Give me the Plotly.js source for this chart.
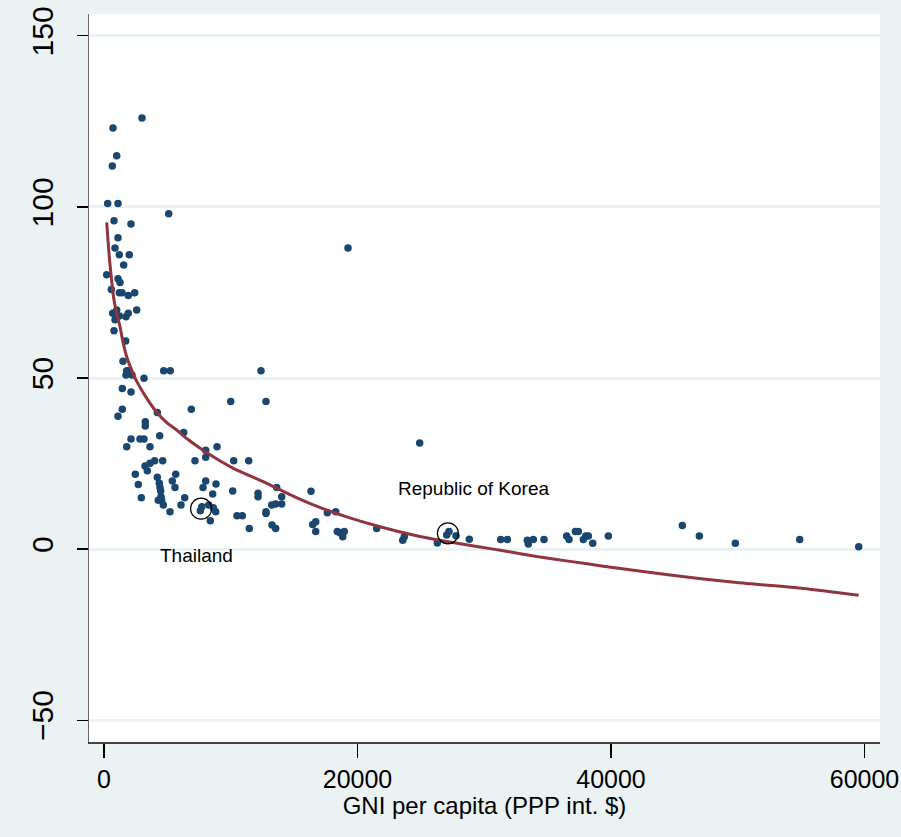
<!DOCTYPE html>
<html>
<head>
<meta charset="utf-8">
<script src="https://cdn.plot.ly/plotly-3.0.1.min.js"></script>
<style>html,body{margin:0;padding:0;background:#eaf2f3;}</style>
</head>
<body>
<div id="chart" style="width:901px;height:837px;"></div>
<script>
// Scatter points: GNI per capita (PPP int. $) and the outcome value
const gni = [2998,710,1002,655,292,1105,5105,789,2130,1105,868,1208,1996,1554,213,1105,1262,576,1208,1420,1917,2422,
  1002,686,1208,1736,1917,2580,868,789,1712,1499,1791,1996,2209,1736,3156,4710,5231,12387,1444,2130,1444,1105,6888,
  9997,12782,4206,3259,3259,4395,6288,2130,2840,3156,1791,3629,8024,8024,8916,7180,10233,11417,3235,3629,4000,4631,
  3416,2470,5657,4206,2706,4364,5389,5602,4474,2943,4285,4553,4679,5207,6075,6367,8024,7811,8837,8576,7600,7720,
  8261,8624,8813,8387,10154,10494,10912,11465,12151,12151,12782,12782,13231,13547,13626,14020,14020,13255,13547,
  24908,16332,17620,18280,16467,16704,16704,18407,18620,18833,18960,21516,23567,23693,26297,27036,27219,27772,28821,
  31300,31821,33398,33477,33872,34716,36506,36688,37187,37424,37818,38007,38212,38558,39790,45628,46969,49810,54889,
  59544,19252,4418,4497];
const outcome = [126.0,123.1,115.0,112.0,101.0,101.0,98.0,96.0,95.0,91.0,88.0,86.0,86.0,83.0,80.2,79.0,77.9,75.9,74.9,74.9,74.1,74.9,
  69.9,68.9,68.1,67.9,68.9,69.9,67.0,63.8,60.8,54.9,52.1,52.1,50.9,50.9,49.9,52.1,52.1,52.1,46.9,45.9,40.9,38.8,40.9,
  43.1,43.1,39.9,37.2,36.0,33.1,34.1,32.2,32.2,32.2,29.9,29.9,28.9,26.8,29.9,25.8,25.8,25.8,24.3,25.1,25.8,25.8,
  22.9,21.9,21.9,21.0,18.9,19.2,19.9,18.0,17.0,15.0,14.3,14.3,12.9,10.9,12.9,15.0,19.9,18.0,19.0,16.1,11.2,12.4,
  12.9,12.1,10.9,8.3,17.0,9.7,9.7,6.0,16.3,15.3,10.9,10.4,12.9,13.2,18.0,15.3,13.2,7.0,6.0,
  31.0,16.9,10.6,10.9,7.2,8.0,5.1,5.1,4.8,3.6,5.1,6.0,2.6,3.6,1.8,4.1,5.1,3.9,2.9,
  2.8,2.8,2.6,1.5,2.8,2.8,3.8,2.8,5.1,5.1,2.8,3.8,3.8,1.7,3.8,6.9,3.8,1.7,2.8,
  0.7,88.0,18.0,15.3];

// Fitted curve
const fitX = [213,450,686,789,1000,1262,1500,1791,2150,2580,3300,4158,5000,5735,6525,7969,10202,12569,14675,16514,19149,21776,24404,27036,
  29666,31506,34140,36767,39396,44657,49918,55174,59544];
const fitY = [95.5,84.0,75.7,72.8,69.0,65.0,60.5,56.2,52.6,49.0,44.5,40.0,36.8,34.8,32.3,28.5,23.6,19.7,15.9,12.9,9.4,6.5,4.1,2.2,
  0.6,-0.5,-2.2,-3.6,-5.0,-7.6,-9.8,-11.5,-13.5];

// Highlighted countries
const hlNames = ["Thailand", "Republic of Korea"];
const hlX = [7660, 27130];
const hlY = [11.8, 4.6];
const labelX = [7259, 29114];
const labelY = [-1.8, 17.8];

const xTicks = [0, 20000, 40000, 60000];
const yTicks = [-50, 0, 50, 100, 150];

const sans = '"Liberation Sans", Arial, sans-serif';

const traces = [
  {type:'scatter', mode:'markers', x:gni, y:outcome, name:'points',
   marker:{color:'#1a476f', size:7.5}, hoverinfo:'x+y'},
  {type:'scatter', mode:'lines', x:fitX, y:fitY, name:'fit', line:{color:'#90353b', width:3, shape:'spline', smoothing:0.6}},
  {type:'scatter', mode:'markers', x:hlX, y:hlY, text:hlNames, name:'highlight',
   marker:{symbol:'circle-open', size:21, color:'#000000', line:{width:1.2, color:'#000000'}}}
];

const annotations = hlNames.map((n, i) => ({
  x: labelX[i], y: labelY[i], xref:'x', yref:'y', text: n, showarrow:false,
  font:{family: sans, size:19, color:'#000000'}, xanchor:'center', yanchor:'middle'
}));

const layout = {
  width:901, height:837,
  margin:{l:89, r:21, t:14, b:95},
  paper_bgcolor:'#eaf2f3', plot_bgcolor:'#ffffff',
  showlegend:false,
  xaxis:{
    range:[-1183, 61223], tickvals:xTicks, tickformat:'d',
    ticks:'outside', ticklen:14, tickwidth:1.2, tickcolor:'#000000',
    showline:true, linecolor:'#444444', linewidth:1.5,
    showgrid:false, zeroline:false, ticklabeloverflow:'allow',
    tickfont:{family: sans, size:25, color:'#000000'},
    title:{text:'GNI per capita (PPP int. $)', font:{family: sans, size:24, color:'#000000'}, standoff:4}
  },
  yaxis:{
    range:[-56.4, 156.4], tickvals:yTicks, tickangle:-90,
    ticks:'outside', ticklen:11, tickwidth:1.2, tickcolor:'#000000',
    showline:true, linecolor:'#666666', linewidth:1.5,
    showgrid:true, gridcolor:'#eaf2f3', gridwidth:3, zeroline:false,
    tickfont:{family: sans, size:30, color:'#000000'},
    ticklabelstandoff:12
  },
  annotations: annotations
};

Plotly.newPlot('chart', traces, layout, {displayModeBar:false, staticPlot:true});
</script>
</body>
</html>
